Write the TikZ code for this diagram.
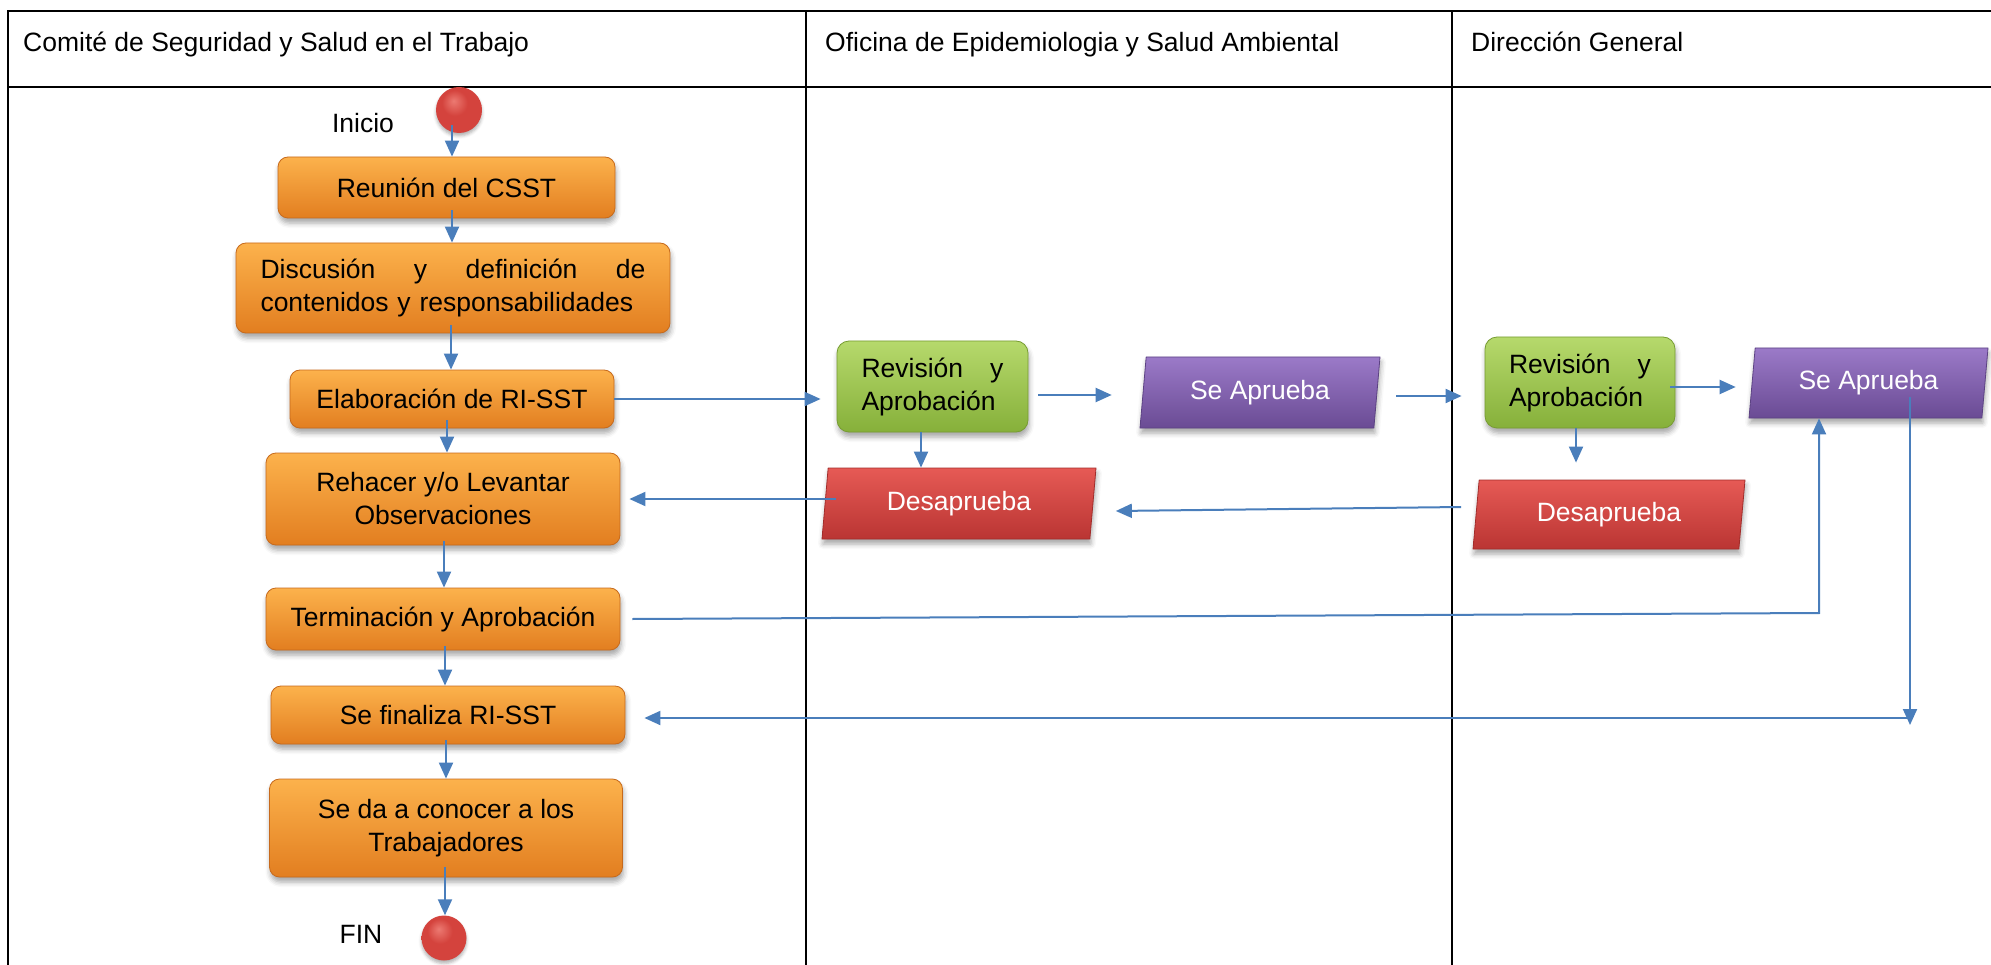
\documentclass[tikz,border=0pt]{standalone}
\usepackage{fontspec}
\setmainfont{Liberation Sans}
\usetikzlibrary{arrows.meta,shapes.geometric,shadows.blur}

\newcommand\diagfont{\fontsize{26.5}{33}\selectfont}

\definecolor{flowblue}{HTML}{4A7EBB}
\definecolor{orTop}{HTML}{FCB24C}
\definecolor{orMid}{HTML}{F7952F}
\definecolor{orBot}{HTML}{E27E20}
\definecolor{orEdge}{HTML}{C76A1C}
\definecolor{grTop}{HTML}{B6D96C}
\definecolor{grMid}{HTML}{9CC74A}
\definecolor{grBot}{HTML}{86B03A}
\definecolor{grEdge}{HTML}{779C32}
\definecolor{puTop}{HTML}{9B7AC8}
\definecolor{puMid}{HTML}{7E5CAB}
\definecolor{puBot}{HTML}{6A4B94}
\definecolor{puEdge}{HTML}{5C4283}
\definecolor{rdTop}{HTML}{E65A55}
\definecolor{rdMid}{HTML}{D44442}
\definecolor{rdBot}{HTML}{BA3533}
\definecolor{rdEdge}{HTML}{A22C2A}
\definecolor{sphLight}{HTML}{EC7A72}
\definecolor{sphMid}{HTML}{D4433D}
\definecolor{sphDark}{HTML}{A82B27}

% red sphere used for the start and end markers
\pgfdeclareradialshading{redsphere}{\pgfpoint{-6bp}{10bp}}{%
  color(0bp)=(sphLight); color(14bp)=(sphMid); color(30bp)=(sphMid);
  color(42bp)=(sphDark); color(60bp)=(sphDark)}

\tikzset{
  tbl/.style={line width=2.4pt, black},
  hdr/.style={anchor=base west, font=\diagfont, inner sep=0pt},
  lbl/.style={font=\diagfont, inner sep=0pt},
  shade box/.style={blur shadow={shadow xshift=1pt, shadow yshift=-5pt,
      shadow blur radius=5pt, shadow opacity=35}},
  obox/.style={rectangle, rounded corners=10pt, draw=orEdge, line width=0.8pt,
      top color=orTop, middle color=orMid, bottom color=orBot, shade box,
      font=\diagfont, text=black, inner sep=0pt},
  gbox/.style={rectangle, rounded corners=12pt, draw=grEdge, line width=0.8pt,
      top color=grTop, middle color=grMid, bottom color=grBot, shade box,
      font=\diagfont, text=black, inner sep=0pt},
  para/.style={trapezium, trapezium left angle=76, trapezium right angle=104,
      trapezium stretches body, line width=0.8pt, shade box,
      font=\diagfont, text=white, inner sep=0pt},
  okpara/.style={para, draw=puEdge, top color=puTop, middle color=puMid, bottom color=puBot},
  nopara/.style={para, draw=rdEdge, top color=rdTop, middle color=rdMid, bottom color=rdBot},
  terminal/.style={circle, shading=redsphere, inner sep=0pt,
      blur shadow={shadow xshift=0pt, shadow yshift=-3pt, shadow blur radius=3pt, shadow opacity=30}},
  arr/.style={draw=flowblue, line width=2pt,
      -{Triangle[length=16pt, width=14pt]}, color=flowblue},
}

\begin{document}
\begin{tikzpicture}[x=1pt, y=-1pt]
\useasboundingbox (0,0) rectangle (1991,965);

% swimlane table
\draw[tbl] (1991,11) -- (8,11) -- (8,965);
\draw[tbl] (8,87) -- (1991,87);
\draw[tbl] (806,11) -- (806,965);
\draw[tbl] (1452,11) -- (1452,965);

\node[hdr] (h1) at (23,52) {Comité de Seguridad y Salud en el Trabajo};
\node[hdr] (h2) at (825,52) {Oficina de Epidemiologia y Salud Ambiental};
\node[hdr] (h3) at (1471,52) {Dirección General};

% committee lane
\node[terminal, minimum size=46pt] (ini) at (459,110) {};
\node[lbl] (tini) at (363,123) {Inicio};
\node[obox, minimum width=337pt, minimum height=61pt] (reu) at (446.5,187.5) {Reunión del CSST};
\node[obox, minimum width=434pt, minimum height=90pt, text width=385pt, align=left] (dis) at (453,288)
  {Discusión\hfill y\hfill definición\hfill de\\contenidos y responsabilidades};
\node[obox, minimum width=324pt, minimum height=58pt] (ela) at (452,399) {Elaboración de RI-SST};
\node[obox, minimum width=354pt, minimum height=92pt, align=center] (reh) at (443,499)
  {Rehacer y/o Levantar\\Observaciones};
\node[obox, minimum width=354pt, minimum height=62pt] (ter) at (443,619) {Terminación y Aprobación};
\node[obox, minimum width=354pt, minimum height=58pt] (sfi) at (448,715) {Se finaliza RI-SST};
\node[obox, minimum width=353pt, minimum height=98pt, align=center] (sda) at (446,828)
  {Se da a conocer a los\\Trabajadores};
\node[terminal, minimum size=45pt] (fin) at (444,938) {};
\node[lbl] (tfin) at (361,934) {FIN};

% epidemiology lane
\node[gbox, minimum width=191pt, minimum height=91pt, text width=142pt, align=left] (rv1) at (932.5,386.5)
  {Revisión\hfill y\\Aprobación};
\node[okpara, minimum width=240pt, minimum height=71pt] (sa1) at (1260,392.5) {Se Aprueba};
\node[nopara, minimum width=274pt, minimum height=71pt] (de1) at (959,503.5) {Desaprueba};

% direction lane
\node[gbox, minimum width=190pt, minimum height=91pt, text width=142pt, align=left] (rv2) at (1580,382.5)
  {Revisión\hfill y\\Aprobación};
\node[okpara, minimum width=239pt, minimum height=70pt] (sa2) at (1868.5,383) {Se Aprueba};
\node[nopara, minimum width=272pt, minimum height=69pt] (de2) at (1609,514.5) {Desaprueba};

\coordinate (tk) at (1819,613);
\coordinate (sk) at (1910,718);

% main sequence
\draw[arr] ([xshift=-7pt,yshift=-15pt]ini.center) -- ([xshift=-7pt]ini.center |- reu.north);
\draw[arr] ([xshift=5.5pt,yshift=8pt]reu.south) -- ([xshift=5.5pt]reu.south |- dis.north);
\draw[arr] ([xshift=-2pt,yshift=8pt]dis.south) -- ([xshift=-2pt]dis.south |- ela.north);
\draw[arr] ([xshift=-5pt,yshift=8pt]ela.south) -- ([xshift=-5pt]ela.south |- reh.north);
\draw[arr] ([xshift=1pt,yshift=4pt]reh.south) -- ([xshift=1pt]reh.south |- ter.north);
\draw[arr] ([xshift=2pt,yshift=4pt]ter.south) -- ([xshift=2pt]ter.south |- sfi.north);
\draw[arr] ([xshift=-2pt,yshift=4pt]sfi.south) -- ([xshift=-2pt]sfi.south |- sda.north);
\draw[arr] ([xshift=-1pt,yshift=10pt]sda.south) -- ([xshift=-1pt]sda.south |- fin.north);

% review loops
\draw[arr, shorten >=16pt] (ela.east) -- (ela.east -| rv1.west);
\draw[arr, shorten <=10pt, shorten >=31pt] ([yshift=-8.5pt]rv1.east) -- ([yshift=-8.5pt]rv1.east -| sa1.west);
\draw[arr, shorten <=19pt, shorten >=23pt] ([yshift=-3.5pt]sa1.east) -- ([yshift=-3.5pt]sa1.east -| rv2.west);
\draw[arr, shorten <=-5pt, shorten >=16pt] ([yshift=-4.5pt]rv2.east) -- ([yshift=-4.5pt]rv2.east -| sa2.west);
\draw[arr] ([xshift=-11.5pt]rv1.south) -- ([xshift=-11.5pt]rv1.south |- de1.north);
\draw[arr, shorten >=17pt] ([xshift=-4pt]rv2.south) -- ([xshift=-4pt]rv2.south |- de2.north);
\draw[arr, shorten >=9pt] ([xshift=11pt,yshift=4.5pt]de1.west) -- ([yshift=4.5pt]de1.west -| reh.east);
\draw[arr] ([xshift=-14.5pt,yshift=7.5pt]de2.west) -- ([xshift=22.5pt,yshift=-7.5pt]de1.east);
\draw[arr] ([xshift=12pt]ter.east) -- (tk) -- (tk |- sa2.south);
\draw[arr] ([yshift=-14pt]sa2.center -| sk) -- ([yshift=-7pt]sk);
\draw[arr, shorten >=19pt] (sk) -- (sk -| sfi.east);
\end{tikzpicture}
\end{document}
